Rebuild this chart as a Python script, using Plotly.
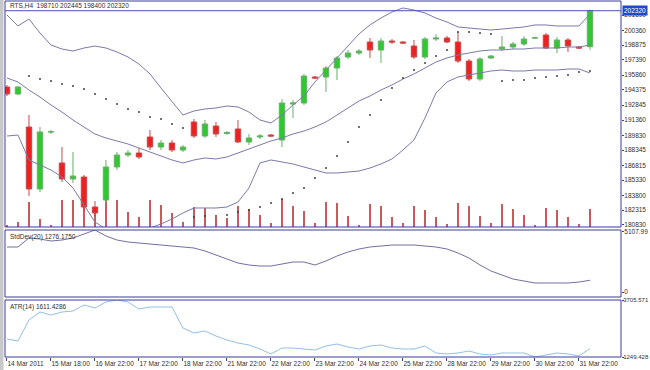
import plotly.graph_objects as go

# ---------------- data (RTS, H4) ----------------
bars = list(range(54))
time_ticks = [0, 4, 8, 12, 16, 20, 24, 28, 32, 36, 40, 44, 48, 52]
time_labels = ["14 Mar 2011", "15 Mar 18:00", "16 Mar 22:00", "17 Mar 22:00", "18 Mar 22:00",
               "21 Mar 22:00", "22 Mar 22:00", "23 Mar 22:00", "24 Mar 22:00", "25 Mar 22:00",
               "28 Mar 22:00", "29 Mar 22:00", "30 Mar 22:00", "31 Mar 22:00"]

opens = [194670, 193968, 190658, 184440, 190157, 187048, 185443, 185644, 182635, 183337,
         186647, 187850, 188051, 189655, 188652, 189054, 188351, 191160, 189756, 190758,
         190006, 190458, 189154, 189655, 189856, 189354, 192960, 193065, 195673, 195673,
         196575, 197678, 198080, 199183, 198380, 199283, 199183, 198782, 197678, 199484,
         199584, 199183, 197277, 195472, 197578, 198481, 198681, 198982, 199584, 199885,
         198581, 199383, 198681, 198710]
highs = [194870, 194770, 191862, 190658, 190357, 188652, 188151, 185844, 183237, 187349,
         188151, 188351, 188552, 190357, 189354, 189354, 188853, 191460, 191360, 191160,
         190257, 191360, 189956, 189956, 189956, 193466, 193366, 195974, 195773, 196776,
         197779, 198380, 198481, 199584, 199584, 199484, 199283, 199383, 199684, 199985,
         199785, 200186, 197478, 197678, 197879, 199785, 199183, 199785, 199684, 200085,
         199684, 199584, 198782, 202445]
lows = [193767, 193868, 183738, 184139, 189956, 185142, 185042, 182134, 181732, 183036,
        186346, 187649, 187449, 188351, 188351, 188151, 188151, 189555, 189555, 189655,
        189856, 189054, 188853, 189455, 189655, 188652, 191561, 192865, 195472, 194168,
        195372, 197478, 197879, 197578, 197077, 198982, 198982, 197478, 197478, 199283,
        199083, 197077, 195272, 195272, 197478, 198280, 198481, 198782, 199484, 198481,
        198080, 198180, 198481, 198400]
closes = [193968, 194670, 184440, 190157, 190187, 185443, 185744, 182635, 182033, 186647,
          187850, 188051, 187649, 188652, 189054, 188351, 188652, 189756, 190959, 189956,
          190107, 189154, 189555, 189756, 189756, 193065, 193065, 195773, 195572, 196575,
          197578, 198080, 198280, 198380, 199283, 199183, 199083, 197678, 199484, 199584,
          199183, 197277, 195472, 197478, 197779, 198681, 198982, 199484, 199604, 198581,
          199383, 198782, 198581, 202320]
volumes = [360, 900, 4500, 1440, 360, 4860, 4860, 3960, 3240, 4860, 4860, 2700, 1800, 4860,
           3960, 2520, 900, 3600, 3420, 1800, 1620, 3780, 3240, 2160, 720, 5040, 3780, 2880,
           720, 4500, 4320, 1980, 360, 4140, 3780, 1800, 720, 3780, 3060, 1800, 540, 4320,
           3780, 1980, 720, 4140, 3240, 2160, 360, 3420, 3060, 1800, 540, 3240]

bb_upper = [201890, 200790, 201490, 200085, 198880, 198480, 198280, 198580, 198780, 198580,
            198180, 197680, 196975, 195975, 194570, 193165, 191860, 192265, 192465, 192565,
            192765, 192665, 192160, 191360, 191060, 191860, 192865, 193765, 195170, 196375,
            197580, 198680, 199985, 200890, 201590, 202190, 202595, 202390, 202090, 201590,
            201190, 200690, 200585, 200485, 200385, 200485, 200585, 200690, 200890, 200890,
            200790, 200790, 200790, 201990]
bb_middle = [195575, 195170, 194370, 193665, 192865, 192160, 191360, 190660, 189955, 189555,
             189255, 188955, 188550, 188150, 187750, 187350, 187050, 187350, 187550, 187450,
             187650, 188050, 188450, 188855, 189255, 189555, 189955, 190255, 190660, 191160,
             191860, 192565, 193265, 193765, 194370, 194870, 195470, 195975, 196575, 197175,
             197580, 197880, 198080, 198280, 198380, 198380, 198480, 198480, 198580, 198580,
             198580, 198680, 198680, 198880]
bb_lower = [189755, 189855, 187350, 186845, 186345, 185645, 184540, 182835, 181130, 180430,
            180130, 180030, 180130, 180530, 180930, 181430, 182035, 182535, 182535, 182535,
            182635, 183135, 184540, 187050, 187350, 187150, 186950, 186645, 186345, 186045,
            186045, 186145, 186245, 186545, 186950, 187450, 188350, 189355, 191560, 194070,
            195170, 195675, 195875, 196075, 196275, 196375, 196275, 196275, 196375, 196375,
            196375, 196475, 196475, 196075]
sar = [None, None, 195775, 195470, 195270, 194970, 194770, 194470, 193970, 193465,
       192965, 192465, 192160, 191660, 191460, 190960, 190560, 181630, 181730, 181730,
       181830, 182135, 182335, 182635, 183035, 183435, 184040, 184540, 185545, 186545,
       187750, 189155, 190660, 191860, 193365, 194570, 195570, 196375, 197075, 197780,
       198380, 200185, 200185, 200085, 199985, 195270, 195370, 195370, 195570, 195675,
       195775, 195875, 196175, 196275]

stddev = [3812, 3812, 4498, 4422, 4269, 4346, 4498, 4803, 5107.99, 4651,
          4346, 4193, 4117, 4041, 3964, 3888, 3812, 3736, 3507, 3202,
          2897, 2592, 2440, 2363, 2363, 2516, 2668, 2668, 2440, 2745,
          3126, 3431, 3660, 3812, 3888, 3964, 3964, 3964, 3888, 3812,
          3660, 3355, 2973, 2440, 1982, 1677, 1372, 1220, 1067, 1067,
          1067, 1067, 1144, 1276.175]
atr = [2025, 1939, 2844, 3188, 3059, 3188, 3232, 3490, 3361, 3619,
       3705.571, 3619, 3318, 3404, 3404, 3404, 2499, 2284, 2370, 2154,
       1982, 1853, 1767, 1594, 1379, 1637, 1637, 1594, 1551, 1723,
       1810, 1680, 1594, 1723, 1767, 1637, 1594, 1594, 1723, 1422,
       1379, 1422, 1508, 1379, 1336, 1422, 1422, 1422, 1249.428, 1336,
       1422, 1379, 1293, 1611.4286]

price_ticks = [201890, 200360, 198875, 197390, 195860, 194375, 192845, 191360,
               189830, 188345, 186815, 185330, 183800, 182315, 180830]
price_range = [180629, 203295]
stddev_range = [0, 5107.99]
atr_range = [1249.428, 3705.571]
volume_range = [0, 40680]

# ---------------- styling ----------------
FONT = "Liberation Sans"
NAVY = "#3c3c9c"
TXT = "#303030"
BAND = "#7a7aaa"

fig = go.Figure()

fig.add_trace(go.Bar(x=bars, y=volumes, yaxis="y", width=0.14,
                     marker=dict(color="#c85a5a", line=dict(width=0)),
                     showlegend=False, hoverinfo="skip"))
for band in (bb_upper, bb_middle, bb_lower):
    fig.add_trace(go.Scatter(x=bars, y=band, yaxis="y4", mode="lines",
                             line=dict(color=BAND, width=1), showlegend=False, hoverinfo="skip"))
fig.add_trace(go.Candlestick(x=bars, open=opens, high=highs, low=lows, close=closes, yaxis="y4",
                             increasing=dict(fillcolor="#30c830", line=dict(color="#68b068", width=1)),
                             decreasing=dict(fillcolor="#ee2020", line=dict(color="#c84848", width=1)),
                             whiskerwidth=0, showlegend=False, hoverinfo="skip"))
fig.add_trace(go.Scatter(x=bars, y=sar, yaxis="y4", mode="markers",
                         marker=dict(size=2, color="#404040"), showlegend=False, hoverinfo="skip"))
fig.add_trace(go.Scatter(x=bars, y=stddev, yaxis="y2", mode="lines",
                         line=dict(color="#7070a4", width=1), showlegend=False, hoverinfo="skip"))
fig.add_trace(go.Scatter(x=bars, y=atr, yaxis="y3", mode="lines",
                         line=dict(color="#92bfe6", width=1), showlegend=False, hoverinfo="skip"))

# panel domains (fractions of the plot area)
main_dom = [0.3652, 1.0]
sd_dom = [0.1685, 0.3567]
atr_dom = [0.0, 0.1601]

sd_px = (stddev_range[1] - stddev_range[0]) / 67.0
axis_font = dict(family=FONT, size=6.5, color=TXT)
small_font = dict(family=FONT, size=6, color=TXT)

fig.update_layout(
    width=650, height=370,
    margin=dict(l=5, r=29, t=1, b=13, autoexpand=False),
    paper_bgcolor="white", plot_bgcolor="white",
    showlegend=False, hovermode=False, bargap=0,
    xaxis=dict(range=[-0.18, 55.82], anchor="y3", showgrid=False, zeroline=False,
               rangeslider=dict(visible=False), automargin=False,
               tickvals=time_ticks, ticktext=time_labels, ticks="outside", ticklen=3,
               tickcolor=NAVY, ticklabelposition="outside right", tickangle=0,
               tickfont=axis_font, showline=False),
    yaxis=dict(domain=main_dom, range=volume_range, visible=False, fixedrange=True),
    yaxis4=dict(overlaying="y", side="right", anchor="x", range=price_range, automargin=False,
                tickvals=price_ticks, tickformat="d", ticks="outside", ticklen=2,
                ticklabelstandoff=-1,
                tickcolor=NAVY, tickfont=axis_font, showgrid=False, zeroline=False),
    yaxis2=dict(domain=sd_dom, side="right", anchor="x", range=stddev_range, automargin=False,
                tickvals=[stddev_range[1] - 1.5 * sd_px, stddev_range[0] + 5 * sd_px],
                ticktext=[f"{stddev_range[1]:.2f}", f"{stddev_range[0]:.0f}"],
                ticks="outside", ticklen=2, ticklabelstandoff=-1,
                tickcolor=NAVY, tickfont=axis_font,
                showgrid=False, zeroline=False),
    yaxis3=dict(domain=atr_dom, side="right", anchor="x", range=atr_range, automargin=False,
                tickvals=[atr_range[1], atr_range[0]],
                ticktext=[f"{atr_range[1]:.3f}", f"{atr_range[0]:.3f}"],
                ticks="outside", ticklen=2, ticklabelstandoff=-2,
                tickcolor=NAVY, tickfont=small_font,
                showgrid=False, zeroline=False),
)

shapes = []
for ref in ("y domain", "y2 domain", "y3 domain"):
    shapes.append(dict(type="rect", xref="x domain", yref=ref, x0=0, x1=1, y0=0, y1=1,
                       line=dict(color=NAVY, width=1), fillcolor="rgba(0,0,0,0)", layer="above"))
# current price line
shapes.append(dict(type="line", xref="x domain", yref="y4", x0=0, x1=1,
                   y0=closes[-1], y1=closes[-1], line=dict(color="#4a52b0", width=1)))
# window frame strip on the left
shapes.append(dict(type="rect", xref="paper", yref="paper", x0=-5 / 616, x1=-1.5 / 616,
                   y0=-13 / 356, y1=1 + 1 / 356, fillcolor="#c8c8c8", line=dict(width=0)))
fig.update_layout(shapes=shapes)

ann_font = dict(family=FONT, size=6.5, color=TXT)
fig.add_annotation(xref="x domain", yref="y domain", x=0, y=1, xanchor="left", yanchor="top",
                   xshift=3, yshift=1, showarrow=False, font=ann_font,
                   text=f"RTS,H4  {opens[-1]} {highs[-1]} {lows[-1]} {closes[-1]}")
fig.add_annotation(xref="x domain", yref="y2 domain", x=0, y=1, xanchor="left", yanchor="top",
                   xshift=3, yshift=-1, showarrow=False, font=ann_font,
                   text=f"StdDev(20) {stddev[-1]:.4f}")
fig.add_annotation(xref="x domain", yref="y3 domain", x=0, y=1, xanchor="left", yanchor="top",
                   xshift=3, yshift=-1, showarrow=False, font=ann_font,
                   text=f"ATR(14) {atr[-1]:.4f}")
# highlighted current price label
fig.add_annotation(xref="x domain", yref="y4", x=1, y=closes[-1], xanchor="left", yanchor="middle",
                   xshift=1, showarrow=False, bgcolor="#2448c8", borderpad=1,
                   font=dict(family=FONT, size=6.5, color="white"), text=f"{closes[-1]}")

fig.write_html("out.html", config={"displayModeBar": False},
               post_script="document.body.style.margin='0';")
